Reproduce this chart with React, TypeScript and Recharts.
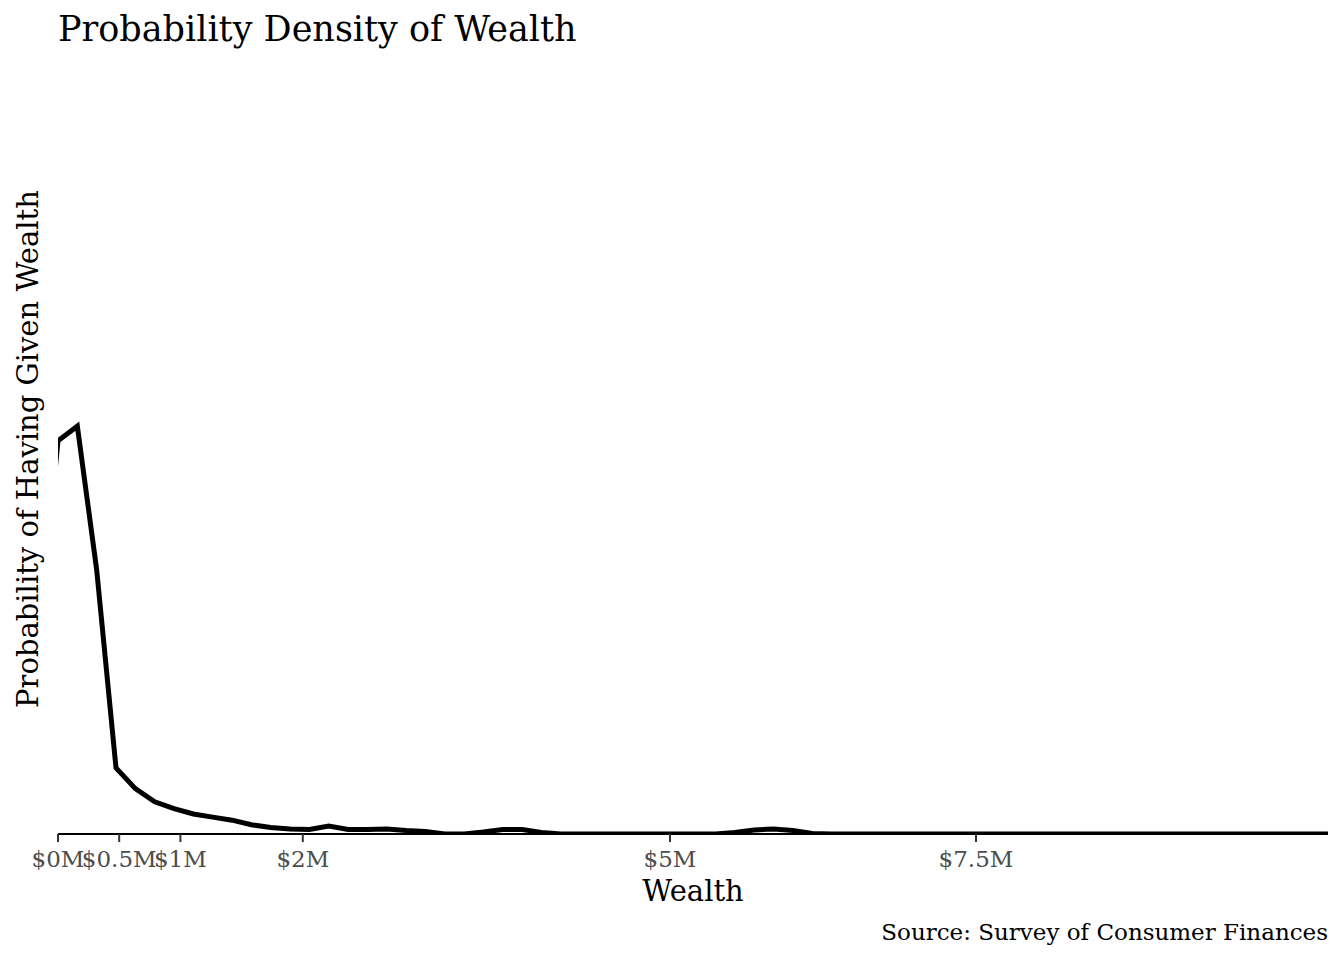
import { LineChart, Line, XAxis, YAxis } from 'recharts'

// wealth in millions of dollars, one point per KDE grid step
const wealth = [
  -0.158, 0, 0.158, 0.316, 0.474, 0.632, 0.79, 0.948, 1.106, 1.264, 1.422,
  1.58, 1.738, 1.896, 2.054, 2.212, 2.37, 2.528, 2.686, 2.844, 3.002,
  3.16, 3.318, 3.476, 3.634, 3.792, 3.95, 4.108, 4.266, 4.424, 4.582,
  4.74, 4.898, 5.056, 5.214, 5.372, 5.53, 5.688, 5.846, 6.004, 6.162,
  6.32, 6.478, 6.636, 6.794, 6.952, 7.11, 7.268, 7.426, 7.584, 7.742,
  7.9, 8.058, 8.216, 8.374, 8.532, 8.69, 8.848, 9.006, 9.164, 9.322,
  9.48, 9.638, 9.796, 9.954, 10.112, 10.27, 10.428,
]

const density = [
  0.253, 0.512, 0.531, 0.344, 0.086, 0.059, 0.042, 0.033, 0.026, 0.022, 0.018,
  0.012, 0.0085, 0.0065, 0.0059, 0.0104, 0.0059, 0.0059, 0.0065, 0.0046, 0.0033,
  0, 0, 0.0026, 0.0059, 0.0059, 0.002, 0, 0, 0, 0,
  0, 0, 0, 0, 0, 0.002, 0.0052, 0.0065, 0.0046, 0.0007,
  0, 0, 0, 0, 0, 0, 0, 0, 0, 0,
  0, 0, 0, 0, 0, 0, 0, 0, 0, 0,
  0, 0, 0, 0, 0, 0, 0,
]

const tickValues = [0, 0.5, 1, 2, 5, 7.5]
const tickLabels = ['$0M', '$0.5M', '$1M', '$2M', '$5M', '$7.5M']

const data = wealth.map((w, i) => ({ wealth: w, density: density[i] }))

const font = 'DejaVu Serif'

export default function App() {
  return (
    <div style={{ position: 'absolute', left: 0, top: 0, width: 1344, height: 960, background: '#fff' }}>
      <LineChart
        width={1344}
        height={960}
        data={data}
        margin={{ top: 66, right: 16, bottom: 86, left: 58 }}
      >
        <XAxis
          dataKey="wealth"
          type="number"
          domain={[0, 10.376]}
          allowDataOverflow
          ticks={tickValues}
          tickFormatter={(v: number) => tickLabels[tickValues.indexOf(v)]}
          interval={0}
          height={40}
          axisLine={{ stroke: '#000', strokeWidth: 2 }}
          tickLine={{ stroke: '#333', strokeWidth: 2 }}
          tickSize={8}
          tickMargin={9}
          tick={{ fill: '#4d4d4d', fontSize: 23, fontFamily: font }}
        />
        <YAxis type="number" domain={[0, 1]} allowDataOverflow hide />
        <Line
          dataKey="density"
          type="linear"
          stroke="#000"
          strokeWidth={5}
          dot={false}
          isAnimationActive={false}
        />
      </LineChart>
      <svg
        width={1344}
        height={960}
        style={{ position: 'absolute', left: 0, top: 0, pointerEvents: 'none' }}
      >
        <text x={58} y={41} fontSize={35} fontFamily={font} fill="#000">
          Probability Density of Wealth
        </text>
        <text
          x={38}
          y={449}
          transform="rotate(-90 38 449)"
          textAnchor="middle"
          fontSize={29}
          fontFamily={font}
          fill="#000"
        >
          Probability of Having Given Wealth
        </text>
        <text x={693} y={901} textAnchor="middle" fontSize={29} fontFamily={font} fill="#000">
          Wealth
        </text>
        <text x={1328} y={940} textAnchor="end" fontSize={23} fontFamily={font} fill="#000">
          Source: Survey of Consumer Finances
        </text>
      </svg>
    </div>
  )
}
